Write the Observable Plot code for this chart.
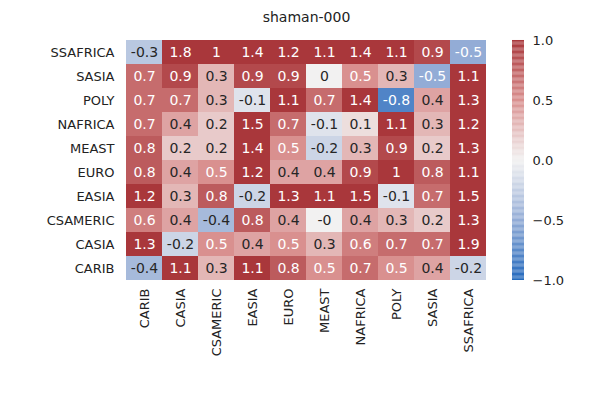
<!DOCTYPE html>
<html><head><meta charset="utf-8">
<script src="https://cdn.jsdelivr.net/npm/d3@7"></script>
<script src="https://cdn.jsdelivr.net/npm/@observablehq/plot@0.6"></script>
<style>body{margin:0;background:#fff;font-family:"DejaVu Sans",sans-serif}#c{position:relative;width:600px;height:400px}#c>div,#c>svg{position:absolute;top:0}</style>
</head><body><div id="c"></div>
<script>
const rows=["SSAFRICA","SASIA","POLY","NAFRICA","MEAST","EURO","EASIA","CSAMERIC","CASIA","CARIB"];
const cols=["CARIB","CASIA","CSAMERIC","EASIA","EURO","MEAST","NAFRICA","POLY","SASIA","SSAFRICA"];
const values=[
[-0.3,1.8,1,1.4,1.2,1.1,1.4,1.1,0.9,-0.5],
[0.7,0.9,0.3,0.9,0.9,0,0.5,0.3,-0.5,1.1],
[0.7,0.7,0.3,-0.1,1.1,0.7,1.4,-0.8,0.4,1.3],
[0.7,0.4,0.2,1.5,0.7,-0.1,0.1,1.1,0.3,1.2],
[0.8,0.2,0.2,1.4,0.5,-0.2,0.3,0.9,0.2,1.3],
[0.8,0.4,0.5,1.2,0.4,0.4,0.9,1,0.8,1.1],
[1.2,0.3,0.8,-0.2,1.3,1.1,1.5,-0.1,0.7,1.5],
[0.6,0.4,-0.4,0.8,0.4,-0,0.4,0.3,0.2,1.3],
[1.3,-0.2,0.5,0.4,0.5,0.3,0.6,0.7,0.7,1.9],
[-0.4,1.1,0.3,1.1,0.8,0.5,0.7,0.5,0.4,-0.2]];
const colorTicks=[-1,-0.5,0,0.5,1];
const color=d3.scaleLinear().domain([-1,-0.5,0,0.5,1]).range(["#2369bd","#93acd6","#f2f1f1","#d9908f","#a9373b"]).clamp(true);
const lum=c=>{const r=d3.rgb(c);const f=x=>{x/=255;return x<=0.03928?x/12.92:Math.pow((x+0.055)/1.055,2.4)};return 0.2126*f(r.r)+0.7152*f(r.g)+0.0722*f(r.b)};
const data=[];rows.forEach((r,i)=>cols.forEach((c,j)=>data.push({row:r,col:c,v:values[i][j]})));
const fmt=v=>Object.is(v,-0)?"-0":String(v);
const main=Plot.plot({width:600,height:400,marginLeft:122,marginRight:110,marginTop:40,marginBottom:120,
 style:{fontFamily:"DejaVu Sans",fontSize:"13px",color:"#222",background:"transparent"},
 x:{domain:cols,padding:0,label:null,tickRotate:-90,tickSize:0,tickPadding:8},
 y:{domain:rows,padding:0,label:null,tickSize:0,tickPadding:8},
 marks:[
  Plot.cell(data,{x:"col",y:"row",fill:d=>color(d.v)}),
  Plot.text(data,{x:"col",y:"row",text:d=>fmt(d.v),fill:d=>lum(color(d.v))>0.408?"#262626":"#fff",fontSize:14}),
  Plot.text(["shaman-000"],{frameAnchor:"top",dy:-28,fontSize:14,fill:"#222"})
 ]});
const cbData=d3.range(-1,1,0.01);
const cb=Plot.plot({width:100,height:400,marginLeft:12,marginRight:76,marginTop:40,marginBottom:120,
 style:{fontFamily:"DejaVu Sans",fontSize:"13px",color:"#222",background:"transparent"},
 x:{axis:null,domain:[0,1]},
 y:{domain:[-1,1],axis:"right",ticks:colorTicks,tickFormat:d=>d3.format(".1f")(d).replace("-","\u2212"),label:null,tickSize:0,tickPadding:8},
 marks:[Plot.rect(cbData,{x1:0,x2:1,y1:d=>d,y2:d=>d+0.0101,fill:d=>color(d+0.005)})]});
const c=document.getElementById("c");
c.appendChild(main);cb.style.left="500px";c.appendChild(cb);
</script></body></html>
